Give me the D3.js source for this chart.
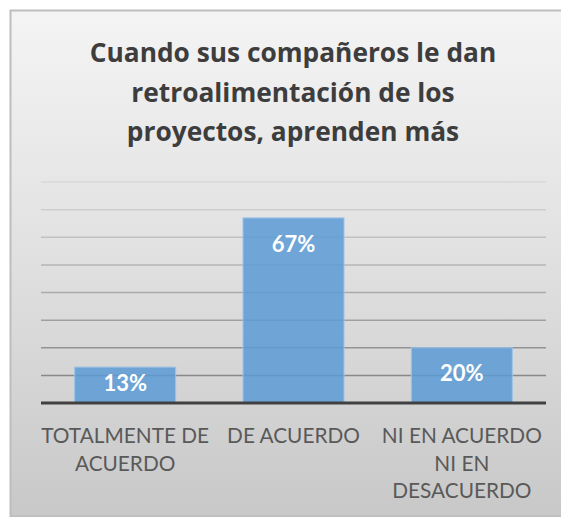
<!DOCTYPE html>
<html>
<head>
<meta charset="utf-8">
<script src="https://cdn.jsdelivr.net/npm/d3@7"></script>
<style>
  body { margin: 0; background: #fff; }
  text { font-family: Lato, "Open Sans", sans-serif; }
</style>
</head>
<body>
<div id="chart"></div>
<script>
// chart data
var categories = ["TOTALMENTE DE ACUERDO", "DE ACUERDO", "NI EN ACUERDO NI EN DESACUERDO"];
var values = [13, 67, 20];
var tickLines = [["TOTALMENTE DE", "ACUERDO"], ["DE ACUERDO"], ["NI EN ACUERDO", "NI EN", "DESACUERDO"]];
var titleLines = ["Cuando sus compañeros le dan", "retroalimentación de los", "proyectos, aprenden más"];
var yTicks = [10, 20, 30, 40, 50, 60, 70, 80];

var W = 561, H = 517;
var plot = {left: 41, right: 546, top: 182, bottom: 403};

var svg = d3.select("#chart").append("svg")
    .attr("width", W)
    .attr("height", H);

var defs = svg.append("defs");
var bg = defs.append("linearGradient")
    .attr("id", "bg")
    .attr("x1", 0).attr("y1", 0).attr("x2", 0).attr("y2", 1);
bg.append("stop").attr("offset", "0%").attr("stop-color", "#f4f4f4");
bg.append("stop").attr("offset", "45%").attr("stop-color", "#e2e2e2");
bg.append("stop").attr("offset", "100%").attr("stop-color", "#c8c8c8");

// chart area box
svg.append("rect")
    .attr("x", 10.5).attr("y", 10.5)
    .attr("width", W + 10).attr("height", H - 11)
    .attr("fill", "url(#bg)")
    .attr("stroke", "#bdbdbd")
    .attr("stroke-width", 2);

// title
svg.append("g").selectAll("text")
  .data(titleLines)
  .join("text")
    .attr("x", 293)
    .attr("y", (d, i) => 62 + i * 39.5)
    .attr("text-anchor", "middle")
    .style("font-family", "'Open Sans', sans-serif")
    .attr("font-size", 26.3)
    .attr("font-weight", "bold")
    .attr("fill", "#3d3d3d")
    .text(d => d);

// scales
var x = d3.scaleBand()
    .domain(categories)
    .range([plot.left, plot.right])
    .paddingInner(0.4)
    .paddingOuter(0.2);

var y = d3.scaleLinear()
    .domain([0, 80])
    .range([plot.bottom, plot.top]);

var gridColor = d3.scaleLinear()
    .domain([80, 10])
    .range(["#d8d8d8", "#888888"]);

// gridlines
svg.append("g").selectAll("line")
  .data(yTicks)
  .join("line")
    .attr("x1", plot.left)
    .attr("x2", plot.right)
    .attr("y1", d => y(d))
    .attr("y2", d => y(d))
    .attr("stroke", d => gridColor(d))
    .attr("stroke-width", 1.5);

// bars
svg.append("g").selectAll("rect")
  .data(values)
  .join("rect")
    .attr("x", (d, i) => x(categories[i]))
    .attr("y", d => y(d))
    .attr("width", x.bandwidth())
    .attr("height", d => y(0) - y(d))
    .attr("fill", "#5b9bd5")
    .attr("fill-opacity", 0.85)
    .attr("stroke", "#9dc3e6")
    .attr("stroke-width", 1);

// bar labels
svg.append("g").selectAll("text")
  .data(values)
  .join("text")
    .attr("x", (d, i) => x(categories[i]) + x.bandwidth() / 2)
    .attr("y", d => Math.min(y(d) + 34, (y(d) + y(0)) / 2 + 6))
    .attr("text-anchor", "middle")
    .attr("font-size", 22)
    .attr("font-weight", "bold")
    .attr("fill", "#ffffff")
    .text(d => d + "%");

// x axis line
svg.append("line")
    .attr("x1", plot.left)
    .attr("x2", plot.right)
    .attr("y1", y(0))
    .attr("y2", y(0))
    .attr("stroke", "#404040")
    .attr("stroke-width", 3);

// category labels
var lab = svg.append("g").selectAll("text")
  .data(tickLines)
  .join("text")
    .attr("text-anchor", "middle")
    .attr("font-size", 20.8)
    .attr("fill", "#595959");

lab.selectAll("tspan")
  .data((d, i) => d.map(t => ({t: t, i: i})))
  .join("tspan")
    .attr("x", d => x(categories[d.i]) + x.bandwidth() / 2)
    .attr("y", (d, j) => 443 + j * 27.5)
    .text(d => d.t);
</script>
</body>
</html>
